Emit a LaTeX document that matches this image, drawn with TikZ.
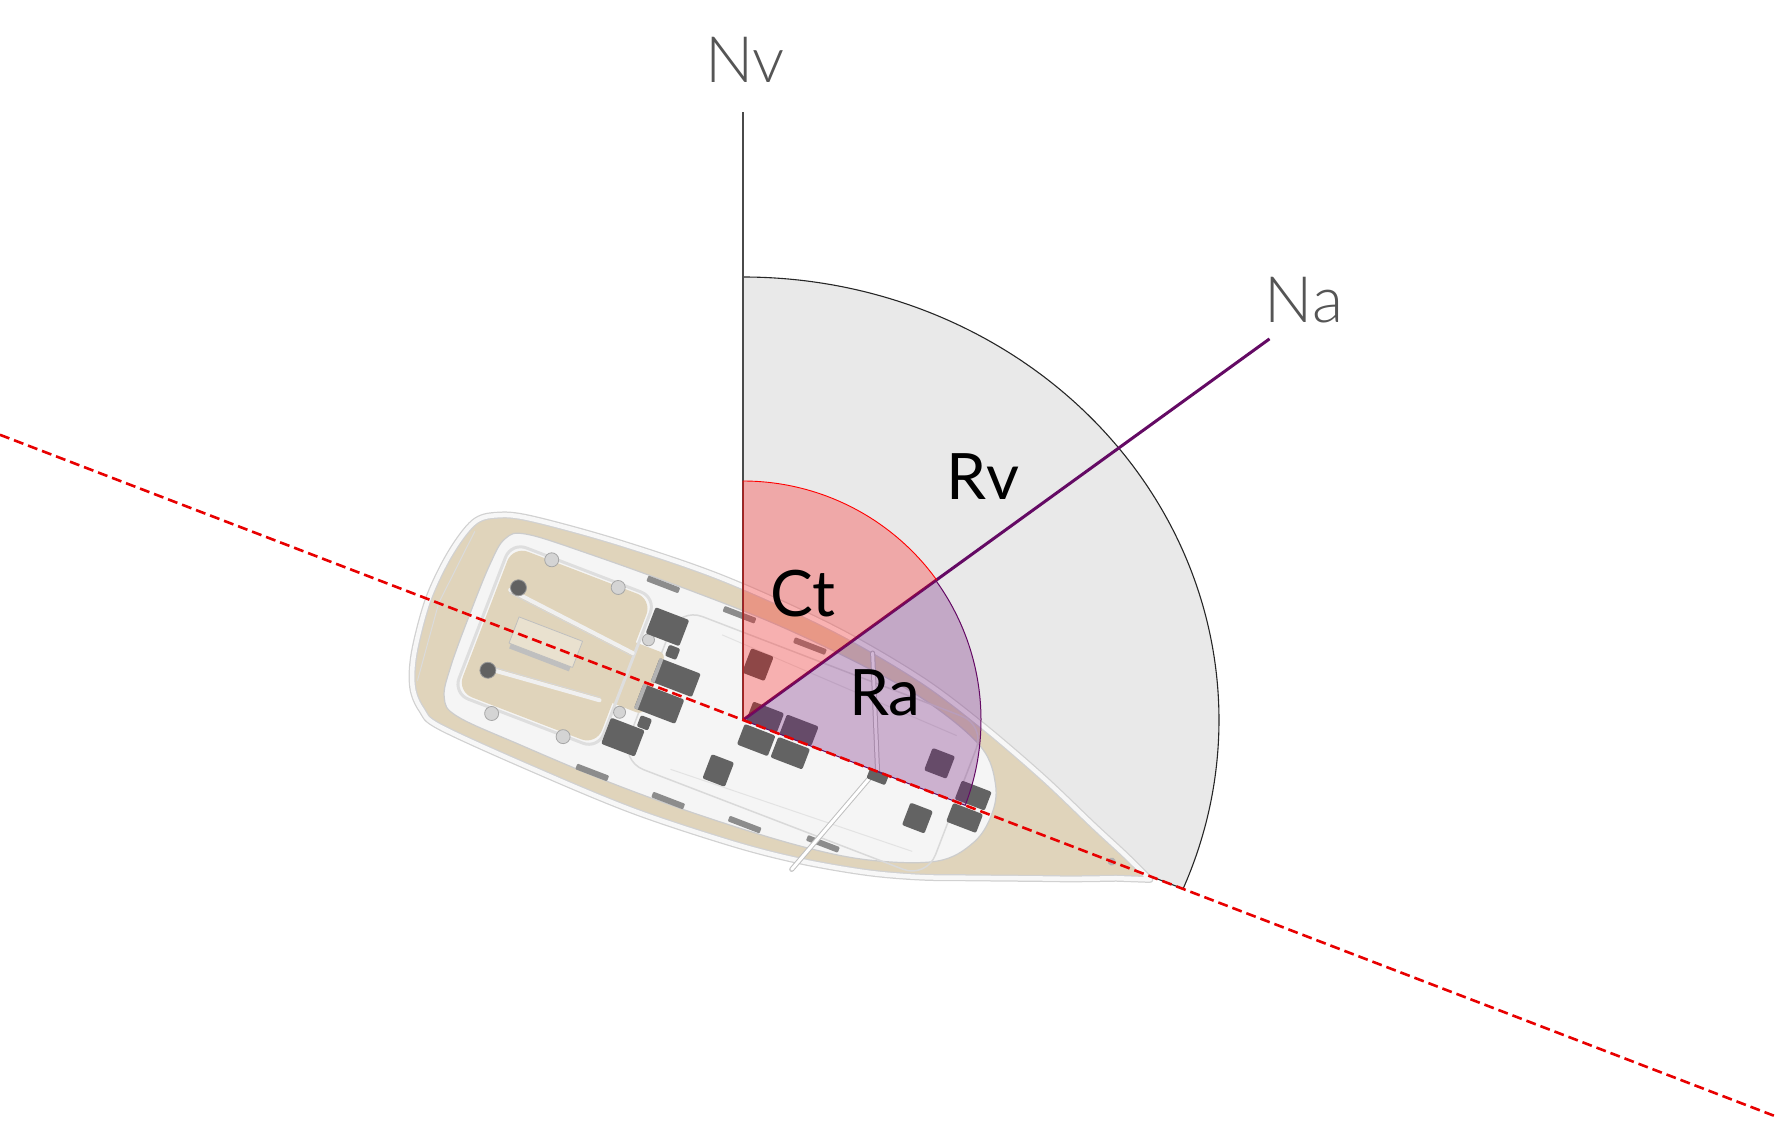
\documentclass[tikz,border=0pt]{standalone}
\usepackage{fontspec}
\setmainfont{Lato}
\newfontfamily\thinfont{Lato Light}
\usetikzlibrary{calc}
\definecolor{secgray}{HTML}{E9E9E9}
\definecolor{napurple}{RGB}{100,10,100}
\definecolor{rafill}{RGB}{110,20,120}
\definecolor{deck}{HTML}{E0D4BB}
\definecolor{hatch}{HTML}{636363}
\definecolor{labgray}{HTML}{555555}
\definecolor{linegray}{HTML}{4A4A4A}
\definecolor{dashred}{RGB}{232,0,0}
\begin{document}
\begin{tikzpicture}[x=1pt,y=-1pt,line join=round,
  lab/.style={font=\fontsize{64}{70}\selectfont, inner sep=0pt, anchor=base},
  nlab/.style={lab, font=\thinfont\fontsize{64}{70}\selectfont, text=labgray},
  dlab/.style={lab, text=black},
  hatchbox/.style={fill=hatch, rounded corners=2pt},
  winch/.style={fill=black!17, draw=black!35, line width=0.8},
  darkwinch/.style={fill=black!62, draw=black!40, line width=0.8},
  stripe/.style={fill=black!45, rounded corners=1pt},
  pole/.style={line width=5, draw=black!25, line cap=round},
  polein/.style={line width=3, draw=white, line cap=round},
  hullp/.style={insert path={plot[smooth, tension=0.55] coordinates {
    (437,3) (405,-11) (365,-27) (300,-54) (224,-81) (150,-102) (50,-118)
    (-70,-125) (-180,-121) (-270,-112) (-303,-103) (-322,-88) (-333,-50)
    (-337,0) (-331,55) (-320,88) (-303,106) (-280,115) (-180,121) (-70,124)
    (35,119) (104,111) (170,98) (222,83) (271,65) (330,43) (365,30) (405,14)} -- cycle}},
  innerp/.style={insert path={plot[smooth cycle, tension=0.6] coordinates {
    (266,0) (259,-30) (232,-60) (170,-82) (100,-93) (0,-101) (-100,-102)
    (-200,-100) (-268,-96) (-287,-84) (-292,-55) (-293,0) (-292,55) (-287,86)
    (-268,99) (-200,103) (-100,106) (0,104) (100,97) (170,85) (232,62) (259,32)}}}
]
\useasboundingbox (0,0) rectangle (1776,1121);

\coordinate (O) at (743,720);
\coordinate (NvTop) at (743,112);
\coordinate (NaEnd) at ($(O)+(-35.9:650)$);
\coordinate (DL) at (0,434.8);
\coordinate (DR) at (1776,1116.5);

% gray sector (Rv)
\filldraw[fill=secgray, draw=black!85, line width=1.1]
  (O) -- (743,277) arc[start angle=-90, end angle=22.4, x radius=476, y radius=443] -- cycle;

% boat
\begin{scope}[shift={(O)}, rotate=-21]
  \path[fill=deck, hullp];
  \draw[line width=7, draw=black!18, hullp];
  \draw[line width=4.5, draw=black!3, hullp];
  \path[fill=black!4, draw=black!20, line width=1.2, innerp];
  % cabin outline
  \draw[black!15, line width=1.5, rounded corners=25] (-100,-82) rectangle (228,82);
  \draw[black!11, line width=1] (-50,-72) -- (205,-62);
  \draw[black!11, line width=1] (-50,72) -- (205,62);
  % cockpit
  \fill[deck, rounded corners=16] (-277,-80) rectangle (-128,76);
  \fill[deck, rounded corners=6] (-140,-34) rectangle (-96,31);
  \draw[black!13, line width=3, rounded corners=16] (-280,-83) rectangle (-125,79);
  \draw[black!6, line width=4, line cap=round] (-264,-38) -- (-127,-23);
  \draw[black!6, line width=4, line cap=round] (-262,44) -- (-141,33);
  \draw[black!16, line width=0.8] (-264,-35) -- (-127,-20);
  \draw[black!16, line width=0.8] (-262,41) -- (-141,30);
  % table
  \fill[black!25] (-244,-12) rectangle (-180,17);
  \filldraw[fill=deck!70!white, draw=black!25, line width=0.8] (-246,-16) rectangle (-178,12);
  % aft deck line
  \draw[black!14, line width=1] (-318,-80) -- (-326,0) -- (-318,80);
  % companionway
  \fill[hatchbox] (-100,-28) rectangle (-56,-3);
  \fill[hatchbox] (-106,2) rectangle (-62,28);
  \fill[black!30] (-100,-28) rectangle (-96,-3);
  \fill[black!30] (-106,2) rectangle (-102,28);
  \fill[hatchbox] (-96,-44) rectangle (-84,-32);
  \fill[hatchbox] (-97,32) rectangle (-85,44);
  % winches
  \filldraw[winch] (-236,-81) circle[radius=7];
  \filldraw[darkwinch] (-257,-43) circle[radius=8];
  \filldraw[winch] (-164,-79) circle[radius=7];
  \filldraw[winch] (-117,-41) circle[radius=6];
  \filldraw[darkwinch] (-256,45) circle[radius=8];
  \filldraw[winch] (-118,37) circle[radius=6];
  \filldraw[winch] (-237,84) circle[radius=7];
  \filldraw[winch] (-162,80) circle[radius=7];
  % hatches
  \fill[hatchbox] (-122,-74) rectangle (-86,-46);
  \fill[hatchbox] (-124,45) rectangle (-88,73);
  \fill[hatchbox] (-18,-70) rectangle (6,-44);
  \fill[hatchbox] (-17,43) rectangle (7,69);
  \fill[hatchbox] (3,-21) rectangle (36,0);
  \fill[hatchbox] (39,-21) rectangle (73,0);
  \fill[hatchbox] (3,3) rectangle (36,25);
  \fill[hatchbox] (39,3) rectangle (73,25);
  \fill[hatchbox] (187,-42) rectangle (211,-18);
  \fill[hatchbox] (186,17) rectangle (210,41);
  \fill[hatchbox] (226,-22) rectangle (258,-2);
  \fill[hatchbox] (226,2) rectangle (258,22);
  % deck stripes
  \fill[stripe] (-140,-101) rectangle (-106,-95);
  \fill[stripe] (-58,-100) rectangle (-24,-94);
  \fill[stripe] (19,-96) rectangle (53,-90);
  \fill[stripe] (-139,100) rectangle (-105,106);
  \fill[stripe] (-58,99) rectangle (-24,105);
  \fill[stripe] (22,94) rectangle (56,100);
  \fill[stripe] (102,84) rectangle (136,90);
  % mast and poles
  \draw[pole] (145,2) -- (97,-109);
  \draw[polein] (145,2) -- (97,-109);
  \draw[pole] (140,6) -- (99,122);
  \draw[polein] (140,6) -- (99,122);
  \fill[hatchbox] (136,-1) rectangle (156,10);
  \fill[black!30] (395,0) circle[radius=4];
\end{scope}

% reference lines
\draw[linegray, line width=2.5] (O) -- (NvTop);
\draw[napurple, line width=3] (O) -- (NaEnd);

% Ct sector
\filldraw[fill=red, fill opacity=0.28, draw=red, line width=0.9]
  (O) -- ++(-90:239) arc[start angle=-90, end angle=-35.9, radius=239] -- cycle;
% Ra sector
\filldraw[fill=rafill, fill opacity=0.3, draw=napurple, line width=1]
  (O) -- ++(-35.9:238) arc[start angle=-35.9, end angle=21, radius=238] -- cycle;

% heading line
\draw[dashred, line width=2.6, dash pattern=on 10pt off 5pt] (DL) -- (DR);

% labels
\node[nlab] (Nv) at (745,83) {Nv};
\node[nlab] (Na) at (1304,322) {Na};
\node[dlab] (Rv) at (983,499) {Rv};
\node[dlab] (Ct) at (803,616) {Ct};
\node[dlab] (Ra) at (885,715) {Ra};
\end{tikzpicture}
\end{document}
